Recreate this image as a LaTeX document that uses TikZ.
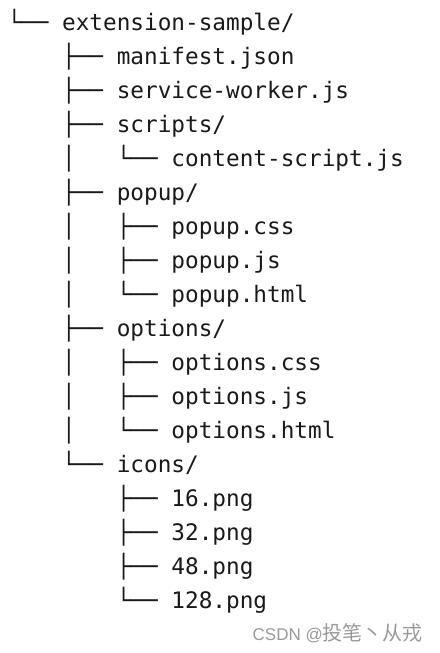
\documentclass[tikz,border=0pt]{standalone}
\usepackage{fontspec}
\setmonofont{DejaVu Sans Mono}
\newfontfamily\cjk{Noto Sans CJK SC}
\newfontfamily\wmlatin{Liberation Sans}
\begin{document}
\begin{tikzpicture}[x=1pt,y=1pt,
  row/.style={anchor=base west, inner sep=0pt, font=\ttfamily\fontsize{22.7}{27}\selectfont, text=black!90},
  wmark/.style={anchor=base east, inner sep=0pt, font=\wmlatin\fontsize{17}{20}\selectfont, text=black!40}]
\fill[white] (0,0) rectangle (439,-653);
\useasboundingbox (0,0) rectangle (439,-653);
\def\dy{34}
\node[row] (r0)  at (7.3,-30.7-0*\dy)  {└── extension-sample/};
\node[row] (r1)  at (7.3,-30.7-1*\dy)  {~~~~├── manifest.json};
\node[row] (r2)  at (7.3,-30.7-2*\dy)  {~~~~├── service-worker.js};
\node[row] (r3)  at (7.3,-30.7-3*\dy)  {~~~~├── scripts/};
\node[row] (r4)  at (7.3,-30.7-4*\dy)  {~~~~│~~~└── content-script.js};
\node[row] (r5)  at (7.3,-30.7-5*\dy)  {~~~~├── popup/};
\node[row] (r6)  at (7.3,-30.7-6*\dy)  {~~~~│~~~├── popup.css};
\node[row] (r7)  at (7.3,-30.7-7*\dy)  {~~~~│~~~├── popup.js};
\node[row] (r8)  at (7.3,-30.7-8*\dy)  {~~~~│~~~└── popup.html};
\node[row] (r9)  at (7.3,-30.7-9*\dy)  {~~~~├── options/};
\node[row] (r10) at (7.3,-30.7-10*\dy) {~~~~│~~~├── options.css};
\node[row] (r11) at (7.3,-30.7-11*\dy) {~~~~│~~~├── options.js};
\node[row] (r12) at (7.3,-30.7-12*\dy) {~~~~│~~~└── options.html};
\node[row] (r13) at (7.3,-30.7-13*\dy) {~~~~└── icons/};
\node[row] (r14) at (7.3,-30.7-14*\dy) {~~~~~~~~├── 16.png};
\node[row] (r15) at (7.3,-30.7-15*\dy) {~~~~~~~~├── 32.png};
\node[row] (r16) at (7.3,-30.7-16*\dy) {~~~~~~~~├── 48.png};
\node[row] (r17) at (7.3,-30.7-17*\dy) {~~~~~~~~└── 128.png};
\node[wmark] (wm) at (423,-640) {CSDN @{\cjk\fontsize{20}{22}\selectfont 投笔丶从戎}};
\end{tikzpicture}
\end{document}
